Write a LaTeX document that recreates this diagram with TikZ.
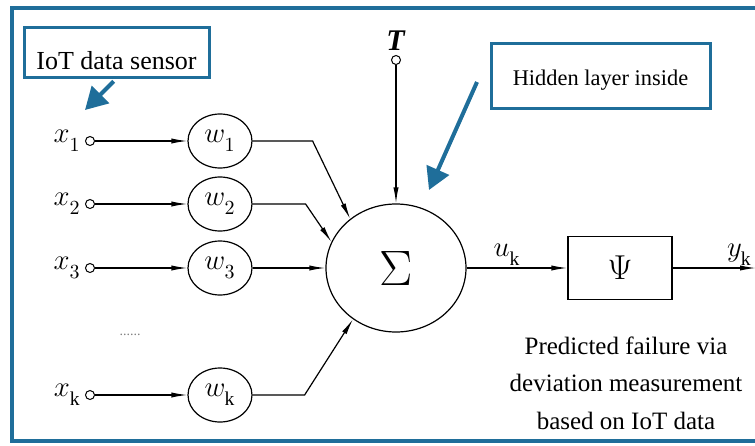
\documentclass[tikz,border=0pt]{standalone}
\usepackage{fontspec}
\setmainfont{Liberation Serif}
\newfontfamily\notefont{Liberation Serif}
\usepackage{xcolor}
\usepackage{tikz}
\usetikzlibrary{arrows.meta,shapes.geometric,positioning}
\definecolor{nnblue}{RGB}{31,110,154}
\newcommand{\nnvar}[2]{$#1_{\raisebox{-2.5pt}{$\scriptstyle #2$}}$}
\tikzset{
  nn terminal/.style={
    circle,
    draw,
    line width=0.5pt,
    inner sep=0pt,
    minimum size=4.5pt,
  },
  nn weight/.style={
    ellipse,
    draw,
    line width=0.6pt,
    inner sep=0pt,
    minimum width=32pt,
    minimum height=27pt,
    font=\fontsize{14}{16}\selectfont,
  },
  nn sum/.style={
    ellipse,
    draw,
    line width=0.6pt,
    inner sep=0pt,
    minimum width=70pt,
    minimum height=64pt,
    font=\fontsize{26}{30}\selectfont,
  },
  nn act/.style={
    rectangle,
    draw,
    line width=0.6pt,
    minimum width=52pt,
    minimum height=31.5pt,
    font=\fontsize{17}{20}\selectfont,
  },
  nn label/.style={inner sep=1pt, font=\fontsize{14}{16}\selectfont},
  nn note/.style={
    rectangle,
    draw=nnblue,
    line width=1.5pt,
    fill=white,
    inner sep=0pt,
  },
  nn arrow/.style={-{Latex[length=8pt,width=2.6pt]}, line width=0.6pt},
  nn pointer/.style={-{Triangle[length=11pt,width=12pt]}, draw=nnblue, line width=2pt},
}

\begin{document}
\begin{tikzpicture}[x=0.5pt, y=-0.5pt]
  \useasboundingbox (0,0) rectangle (755,445);
  \draw[nnblue, line width=2pt] (12,8) rectangle (790,441);

  % inputs
  \node[nn terminal] (t1) at (90,141) {};
  \node[nn terminal] (t2) at (90,204) {};
  \node[nn terminal] (t3) at (90,268) {};
  \node[nn terminal] (tk) at (90,395) {};
  \node[nn label, left=1pt of t1] (x1) {\nnvar{x}{1}};
  \node[nn label, left=1pt of t2] (x2) {\nnvar{x}{2}};
  \node[nn label, left=1pt of t3] (x3) {\nnvar{x}{3}};
  \node[nn label, left=1pt of tk] (xk) {\nnvar{x}{\mathrm{k}}};
  \node[text=gray, font=\fontsize{7}{8}\selectfont] (dots) at (130,335) {......};

  % weights
  \node[nn weight] (w1) at (220,141) {\nnvar{w}{1}};
  \node[nn weight] (w2) at (220,204) {\nnvar{w}{2}};
  \node[nn weight] (w3) at (220,268) {\nnvar{w}{3}};
  \node[nn weight] (wk) at (220,395) {\nnvar{w}{\mathrm{k}}};

  % neuron
  \node[nn terminal] (tt) at (396,60) {};
  \node[nn label, above=1pt of tt, font=\notefont\fontsize{15}{17}\selectfont] (tlab) {\textbf{\textit{T}}};
  \node[nn sum] (sum) at (396,268) {$\Sigma$};
  \node[nn act] (psi) at (620,268) {$\Psi$};
  \coordinate (yout) at (756,268);

  \draw[nn arrow] (t1) -- (w1);
  \draw[nn arrow] (t2) -- (w2);
  \draw[nn arrow] (t3) -- (w3);
  \draw[nn arrow] (tk) -- (wk);
  \draw[nn arrow] (w1.east) -- ++(60,0) -- (sum.133);
  \draw[nn arrow] (w2.east) -- ++(53,0) -- (sum.158);
  \draw[nn arrow] (w3) -- (sum);
  \draw[nn arrow] (wk.east) -- ++(52,0) -- (sum.230);
  \draw[nn arrow] (tt) -- (sum);
  \draw[nn arrow] (sum) -- node[nn label, above, pos=0.4] (uk) {\nnvar{u}{\mathrm{k}}} (psi);
  \draw[nn arrow] (psi) -- node[nn label, above, pos=0.8] (yk) {\nnvar{y}{\mathrm{k}}} (yout);

  % callouts
  \node[nn note, minimum width=92.5pt, minimum height=25pt,
    text height=19pt, text depth=2pt,
    font=\notefont\fontsize{13}{15}\selectfont] (iot) at (116.5,52) {IoT data sensor};
  \node[nn note, minimum width=109.5pt, minimum height=32.5pt,
    text height=10pt, text depth=0pt,
    font=\notefont\fontsize{11.2}{13}\selectfont] (hidden) at (600.5,75.5) {Hidden layer inside};
  \coordinate (iot tip) at (85,110);
  \coordinate (hid tail) at (477,82);
  \coordinate (hid tip) at (429,190);
  \draw[nn pointer, shorten <=2pt] (iot.south) -- (iot tip);
  \draw[nn pointer] (hid tail) -- (hid tip);

  \node[align=center, font=\notefont\fontsize{12.5}{18.75}\selectfont] (pred) at (626,383)
    {Predicted failure via\\deviation measurement\\based on IoT data};
\end{tikzpicture}
\end{document}
